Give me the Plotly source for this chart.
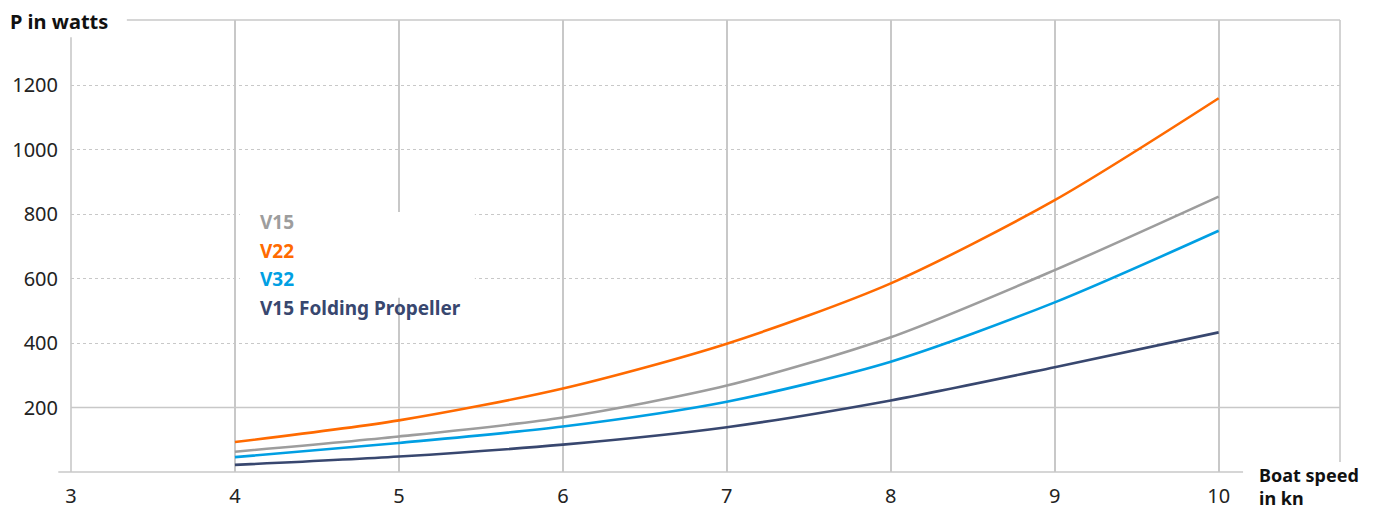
import plotly.graph_objects as go

speed_kn = [4, 5, 6, 7, 8, 9, 10]
series_names = ["V15", "V22", "V32", "V15 Folding Propeller"]
v15 = [63, 110, 169, 268, 418, 626, 854]
v22 = [93, 160, 259, 398, 585, 843, 1159]
v32 = [46, 90, 141, 218, 342, 526, 748]
v15_folding = [22, 48, 85, 139, 222, 325, 433]
series_values = [v15, v22, v32, v15_folding]
colors = ["#9d9d9d", "#ff6a00", "#009fe3", "#38476f"]

x_ticks = [3, 4, 5, 6, 7, 8, 9, 10]
y_ticks = [200, 400, 600, 800, 1000, 1200]

FONT = "Noto Sans"
GRID = "#c8c8c8"

fig = go.Figure()
for name, vals, col in zip(series_names, series_values, colors):
    fig.add_trace(go.Scatter(x=speed_kn, y=vals, mode="lines", name=name,
                             line=dict(color=col, width=2.6, shape="spline", smoothing=0.8),
                             showlegend=False, hoverinfo="skip"))

fig.update_layout(
    width=1376, height=521,
    margin=dict(l=71, r=36, t=20, b=49),
    paper_bgcolor="white", plot_bgcolor="white",
    font=dict(family=FONT, size=19, color="#222222"),
    xaxis=dict(range=[3, 10.74], tickvals=x_ticks, ticktext=[str(t) for t in x_ticks],
               showgrid=True, gridcolor=GRID, gridwidth=1.6, zeroline=False, showline=False,
               ticks="", ticklabelstandoff=10, tickfont=dict(size=20, color="#222222")),
    yaxis=dict(range=[0, 1401.6], tickvals=y_ticks, ticktext=[str(t) for t in y_ticks],
               showgrid=True, gridcolor=GRID, gridwidth=1.2, griddash="dot", zeroline=False,
               showline=False, ticks="", ticklabelstandoff=12, tickfont=dict(size=20, color="#222222")),
)

line_style = dict(color=GRID, width=1.6)
shapes = [
    dict(type="line", xref="paper", yref="y", x0=0, x1=1, y0=200, y1=200, line=line_style, layer="between"),
    dict(type="line", xref="paper", yref="paper", x0=0.044, x1=1, y0=1, y1=1, line=line_style, layer="between"),
    dict(type="line", xref="paper", yref="paper", x0=0, x1=0, y0=0, y1=0.962, line=line_style, layer="between"),
    dict(type="line", xref="paper", yref="paper", x0=1, x1=1, y0=0.022, y1=1, line=line_style, layer="between"),
    dict(type="line", xref="paper", yref="paper", x0=-0.010, x1=0.9236, y0=0, y1=0, line=line_style, layer="between"),
    dict(type="rect", xref="x", yref="y", x0=4.03, x1=5.463, y0=540, y1=806,
         fillcolor="white", line=dict(width=0), layer="between"),
]
fig.update_layout(shapes=shapes)

annotations = [
    dict(text="<b>P in watts</b>", xref="paper", yref="paper", x=-0.050, y=0.9956,
         xanchor="left", yanchor="middle", showarrow=False, font=dict(size=20, color="#111111")),
    dict(text="<b>Boat speed<br>in kn</b>", xref="paper", yref="paper",
         x=(1257 - 71) / 1269, y=(472 - 486) / 452, align="left",
         xanchor="left", yanchor="middle", showarrow=False, font=dict(size=18, color="#111111")),
]
legend_y_px = [222, 250.5, 279, 307.5]
for name, col, ypx in zip(series_names, colors, legend_y_px):
    annotations.append(dict(text="<b>" + name + "</b>", xref="paper", yref="paper",
                            x=(258 - 71) / 1269, y=(472 - ypx) / 452,
                            xanchor="left", yanchor="middle", showarrow=False,
                            font=dict(size=19, color=col)))
fig.update_layout(annotations=annotations)

fig.write_html("out.html", config={"displayModeBar": False},
               post_script="document.body.style.margin='0';document.body.style.overflow='hidden';")
